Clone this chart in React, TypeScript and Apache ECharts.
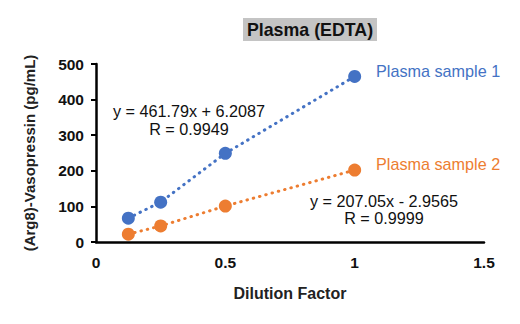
import React, { useEffect, useRef } from "react";
import * as echarts from "echarts";

const dilution = [0.125, 0.25, 0.5, 1];
const sample1 = [67, 112, 249, 465];
const sample2 = [22, 45, 101, 202];
const seriesNames = ["Plasma sample 1", "Plasma sample 2"];
const eq1 = ["y = 461.79x + 6.2087", "R = 0.9949"];
const eq2 = ["y = 207.05x - 2.9565", "R = 0.9999"];
const title = "Plasma (EDTA)";
const xName = "Dilution Factor";
const yName = "(Arg8)-Vasopressin (pg/mL)";

const BLUE = "#4472C4";
const ORANGE = "#ED7D31";
const FONT = "Liberation Sans, Arial, sans-serif";

export default function App() {
  const ref = useRef<HTMLDivElement>(null);
  useEffect(() => {
    if (!ref.current) return;
    const chart = echarts.init(ref.current, undefined, { renderer: "svg" });
    const mkSeries = (name: string, ys: number[], color: string) => ({
      name,
      type: "line",
      data: dilution.map((x, i) => [x, ys[i]]),
      symbol: "circle",
      symbolSize: 13,
      itemStyle: { color },
      lineStyle: { color, width: 3, type: [0.5, 6], cap: "round" },
      z: 3,
    });
    const txt = (x: number, y: number, text: string, fill: string, align: string) => ({
      type: "text",
      x,
      y,
      style: { text, fontFamily: FONT, fontSize: 16.2, fill, align, verticalAlign: "middle" },
    });
    chart.setOption({
      animation: false,
      backgroundColor: "#ffffff",
      textStyle: { fontFamily: FONT },
      grid: { left: 96, right: 36, top: 64, bottom: 82, containLabel: false },
      xAxis: {
        type: "value",
        min: 0,
        max: 1.5,
        interval: 0.5,
        name: xName,
        nameLocation: "middle",
        nameGap: 43,
        nameTextStyle: { fontFamily: FONT, fontWeight: "bold", fontSize: 16, color: "#222" },
        axisLine: { show: true, lineStyle: { color: "#000", width: 2.5 } },
        axisTick: { show: false },
        splitLine: { show: false },
        axisLabel: { fontFamily: FONT, fontWeight: "bold", fontSize: 15.5, color: "#111", margin: 12 },
      },
      yAxis: {
        type: "value",
        min: 0,
        max: 500,
        interval: 100,
        name: yName,
        nameLocation: "middle",
        nameGap: 59,
        nameRotate: 90,
        nameTextStyle: { fontFamily: FONT, fontWeight: "bold", fontSize: 15, color: "#222" },
        axisLine: { show: true, lineStyle: { color: "#000", width: 2.5 } },
        axisTick: { show: true, length: 5, lineStyle: { color: "#000", width: 2 } },
        splitLine: { show: false },
        axisLabel: { fontFamily: FONT, fontWeight: "bold", fontSize: 15.5, color: "#111", margin: 12 },
      },
      series: [mkSeries(seriesNames[0], sample1, BLUE), mkSeries(seriesNames[1], sample2, ORANGE)],
      graphic: [
        {
          type: "rect",
          shape: { x: 243, y: 18, width: 134, height: 23 },
          style: { fill: "#c4c4c4" },
        },
        {
          type: "text",
          x: 310,
          y: 30,
          style: {
            text: title,
            fontFamily: FONT,
            fontWeight: "bold",
            fontSize: 17.8,
            fill: "#111",
            align: "center",
            verticalAlign: "middle",
          },
        },
        txt(376, 71, seriesNames[0], BLUE, "left"),
        txt(376, 164, seriesNames[1], ORANGE, "left"),
        txt(189, 111, eq1[0], "#111", "center"),
        txt(189, 129, eq1[1], "#111", "center"),
        txt(384, 201, eq2[0], "#111", "center"),
        txt(384, 218, eq2[1], "#111", "center"),
      ],
    });
    return () => chart.dispose();
  }, []);
  return <div ref={ref} style={{ width: 520, height: 324, position: "absolute", left: 0, top: 0 }} />;
}
